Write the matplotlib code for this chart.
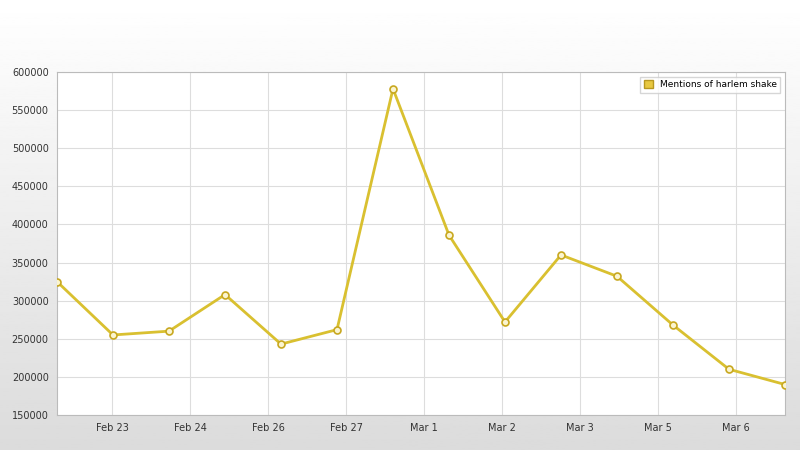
import matplotlib.pyplot as plt
import numpy as np

values = [325000, 255000, 260000, 308000, 243000, 262000, 578000, 386000,
          272000, 360000, 332000, 268000, 210000, 190000]
tick_labels = ["Feb 23", "Feb 24", "Feb 26", "Feb 27", "Mar 1", "Mar 2", "Mar 3", "Mar 5", "Mar 6"]
series_name = "Mentions of harlem shake"

fig = plt.figure(figsize=(8, 4.5), dpi=100)
# background gradient
bg = fig.add_axes([0, 0, 1, 1], zorder=-10)
grad = np.linspace(1, 0.86, 256).reshape(-1, 1)
bg.imshow(grad, cmap="gray", vmin=0, vmax=1, aspect="auto", extent=[0, 1, 0, 1])
bg.axis("off")

ax = fig.add_axes([57/800, 35/450, 728/800, 343/450])
ax.set_facecolor("white")
x = np.arange(len(values))
ax.plot(x, values, color="#d9c030", lw=2, marker="o", ms=5,
        mfc="#fbf5d0", mec="#c8a820", mew=1.2, label=series_name, zorder=3)
ax.set_xlim(0, len(values) - 1)
ax.set_ylim(150000, 600000)
ax.set_yticks(np.arange(150000, 600001, 50000))
step = 78 / 56
ticks = [(112 - 57) / 56 + i * step for i in range(len(tick_labels))]
ax.set_xticks(ticks)
ax.set_xticklabels(tick_labels)
ax.tick_params(labelsize=7, length=0, colors="#333333", pad=6)
ax.grid(True, color="#dddddd", lw=0.8)
for s in ax.spines.values():
    s.set_color("#bbbbbb")
leg = ax.legend(loc="upper right", fontsize=6.5, handlelength=1, handleheight=1,
                frameon=True, fancybox=False, edgecolor="#cccccc")
from matplotlib.patches import Patch
ax.legend(handles=[Patch(facecolor="#e8c840", edgecolor="#b89820", label=series_name)],
          loc="upper right", fontsize=6.5, handlelength=1, handleheight=1,
          frameon=True, fancybox=False, edgecolor="#cccccc")
fig.savefig("out.png", dpi=100)
